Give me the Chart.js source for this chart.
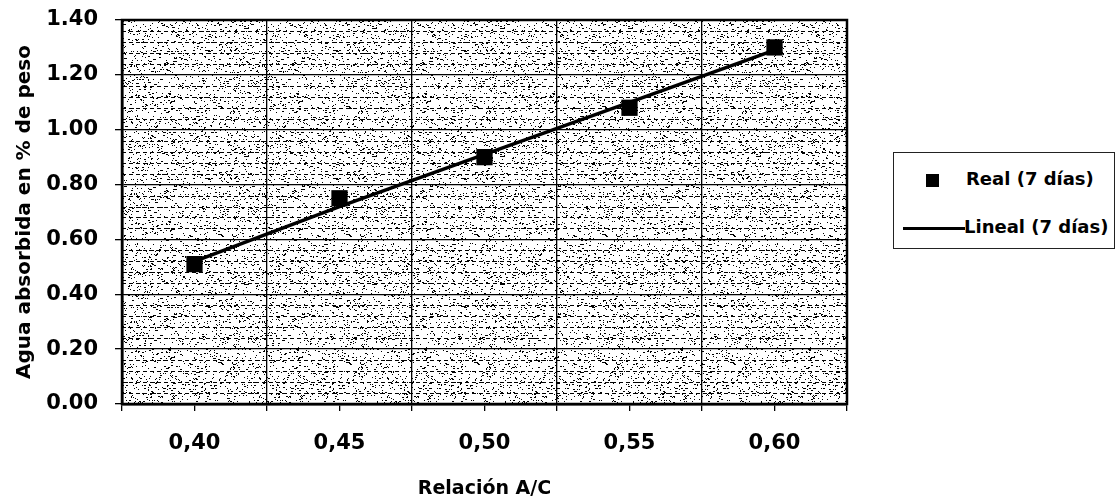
<!DOCTYPE html>
<html>
<head>
    <title>Agua absorbida vs relación A/C</title>
    <script src="https://cdn.jsdelivr.net/npm/chart.js"></script>
    <style>
        body { margin: 0; background: #fff; }
        #wrap { position: relative; width: 1119px; height: 500px; }
        #legend {
            position: absolute; left: 893px; top: 152px; width: 222px; height: 97px;
            border: 1px solid #222; box-sizing: border-box; background: #fff;
            font: bold 18px "DejaVu Sans", sans-serif; color: #000;
        }
        .item { position: absolute; left: 0; white-space: nowrap; }
        .sq { position: absolute; width: 13px; height: 13px; background: #000; }
        .ln { position: absolute; height: 3px; background: #000; }
    </style>
</head>
<body>
<div id="wrap">
    <canvas id="absorcionChart" width="1119" height="500"></canvas>
    <div id="legend">
        <div class="sq" style="left:32px; top:21px;"></div>
        <div class="item" style="left:72px; top:15px;">Real (7 días)</div>
        <div class="ln" style="left:9px; top:74px; width:62px;"></div>
        <div class="item" style="left:70px; top:63px;">Lineal (7 días)</div>
    </div>
</div>

<script>
    // relación agua/cemento y absorción a 7 días
    const acRatio = [0.40, 0.45, 0.50, 0.55, 0.60];
    const acLabels = ['0,40', '0,45', '0,50', '0,55', '0,60'];
    const absorbReal = [0.51, 0.75, 0.90, 1.08, 1.30];
    const absorbLineal = [0.52, 0.72, 0.91, 1.10, 1.29];

    const FONT = '"DejaVu Sans", sans-serif';

    function labelFor(v) {
        const i = acRatio.findIndex(a => Math.abs(a - v) < 1e-6);
        return i >= 0 ? acLabels[i] : '';
    }

    // stippled fill for the plot area
    function makeStipple() {
        const size = 128;
        const c = document.createElement('canvas');
        c.width = size; c.height = size;
        const g = c.getContext('2d');
        g.fillStyle = '#fff';
        g.fillRect(0, 0, size, size);
        g.fillStyle = '#000';
        let s = 20240611;
        const next = () => (s = (Math.imul(s, 1664525) + 1013904223) >>> 0);
        for (let i = 0; i < size * size * 0.075; i++) {
            const x = (next() >>> 8) % size;
            const y = (next() >>> 8) % size;
            const w = (next() >>> 8) % 4 === 0 ? 2 : 1;
            g.fillRect(x, y, w, 1);
        }
        return g.createPattern(c, 'repeat');
    }

    const plotBackground = {
        id: 'plotBackground',
        beforeDraw(chart) {
            const { ctx, chartArea: a, scales: { y } } = chart;
            ctx.save();
            ctx.fillStyle = makeStipple();
            ctx.fillRect(a.left, a.top, a.right - a.left, a.bottom - a.top);
            // dashed minor lines every 0.04
            ctx.strokeStyle = '#000';
            ctx.lineWidth = 1;
            ctx.setLineDash([4, 3]);
            for (let k = 1; k < 35; k++) {
                if (k % 5 === 0) continue;
                const py = Math.round(y.getPixelForValue(k * 0.04)) + 0.5;
                ctx.beginPath();
                ctx.moveTo(a.left, py);
                ctx.lineTo(a.right, py);
                ctx.stroke();
            }
            ctx.restore();
        },
        beforeDatasetsDraw(chart) {
            const { ctx, chartArea: a } = chart;
            ctx.save();
            ctx.strokeStyle = '#000';
            ctx.lineWidth = 2.5;
            ctx.strokeRect(a.left, a.top, a.right - a.left, a.bottom - a.top);
            ctx.restore();
        }
    };

    const ctx = document.getElementById('absorcionChart').getContext('2d');
    new Chart(ctx, {
        type: 'scatter',
        data: {
            datasets: [{
                label: 'Real (7 días)',
                data: acRatio.map((x, i) => ({ x, y: absorbReal[i] })),
                pointStyle: 'rect',
                pointRadius: 11.5,
                pointHoverRadius: 11.5,
                backgroundColor: '#000',
                borderWidth: 0,
                showLine: false,
                order: 0
            }, {
                label: 'Lineal (7 días)',
                data: acRatio.map((x, i) => ({ x, y: absorbLineal[i] })),
                showLine: true,
                borderColor: '#000',
                borderWidth: 3.5,
                pointRadius: 0,
                order: 1
            }]
        },
        options: {
            responsive: false,
            animation: false,
            layout: { padding: { top: 20, right: 272, bottom: 0, left: 0 } },
            plugins: { legend: { display: false }, tooltip: { enabled: false } },
            scales: {
                x: {
                    type: 'linear',
                    min: 0.375,
                    max: 0.625,
                    afterFit: s => { s.height = 96; s.paddingLeft = 0; s.paddingRight = 0; },
                    ticks: {
                        stepSize: 0.025,
                        autoSkip: false,
                        maxRotation: 0,
                        padding: 20,
                        color: '#000',
                        font: { family: FONT, size: 21, weight: 'bold' },
                        callback: v => labelFor(v)
                    },
                    grid: {
                        color: c => (c.tick && labelFor(c.tick.value) === '' ? '#000' : 'rgba(0,0,0,0)'),
                        lineWidth: 1.3,
                        tickColor: '#000',
                        tickLength: 7
                    },
                    border: { color: '#000', width: 2.5 },
                    title: {
                        display: true,
                        text: 'Relación A/C',
                        color: '#000',
                        font: { family: FONT, size: 19, weight: 'bold' },
                        padding: { top: 8, bottom: 0 }
                    }
                },
                y: {
                    min: 0,
                    max: 1.4,
                    afterFit: s => { s.width = 122; s.paddingTop = 0; s.paddingBottom = 0; },
                    ticks: {
                        stepSize: 0.2,
                        padding: 17,
                        color: '#000',
                        font: { family: FONT, size: 21, weight: 'bold' },
                        callback: v => v.toFixed(2)
                    },
                    grid: {
                        color: '#000',
                        lineWidth: 1.3,
                        tickColor: '#000',
                        tickLength: 7
                    },
                    border: { color: '#000', width: 2.5 },
                    title: {
                        display: true,
                        text: 'Agua absorbida en % de peso',
                        color: '#000',
                        font: { family: FONT, size: 20, weight: 'bold' },
                        padding: { top: 13, bottom: 0 }
                    }
                }
            }
        },
        plugins: [plotBackground]
    });
</script>
</body>
</html>
